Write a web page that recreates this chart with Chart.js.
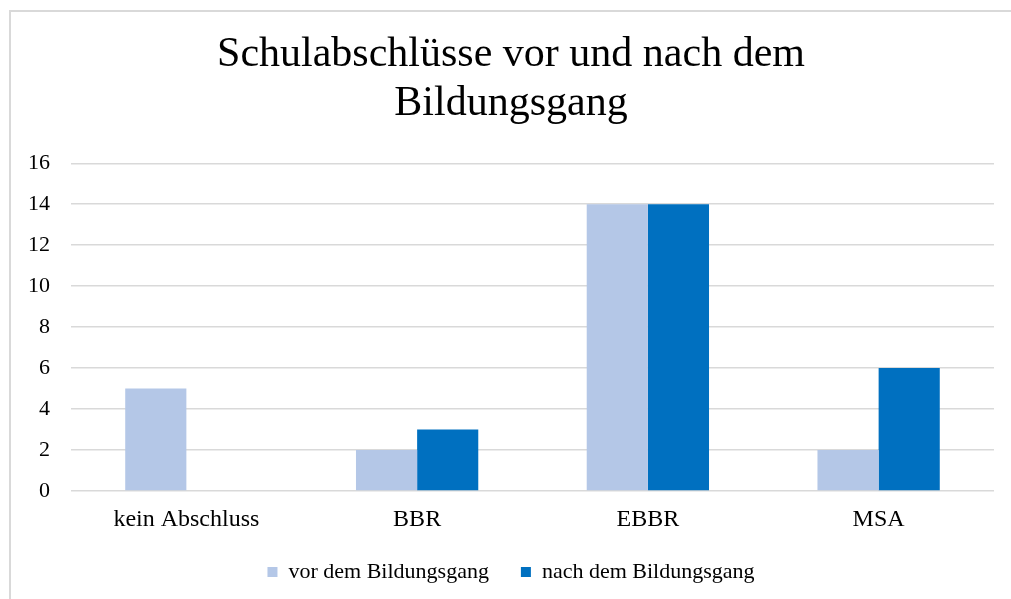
<!DOCTYPE html>
<html>
<head>
<meta charset="utf-8">
<script src="https://cdn.jsdelivr.net/npm/chart.js@4/dist/chart.umd.min.js"></script>
<style>
  html, body { margin: 0; padding: 0; background: #fff; overflow: hidden; }
  #wrap {
    position: absolute; left: 9px; top: 10px;
    width: 1000px; height: 587px;
    border-left: 2px solid #d9d9d9; border-top: 2px solid #d9d9d9;
  }
</style>
</head>
<body>
<div id="wrap"><canvas id="chartAbschluesse"></canvas></div>
<script>
    // Daten
    let categories = ["kein Abschluss", "BBR", "EBBR", "MSA"];
    let valuesBefore = [5, 2, 14, 2];
    let valuesAfter = [0, 3, 14, 6];
    let seriesNames = ["vor dem Bildungsgang", "nach dem Bildungsgang"];
    let yTicks = [0, 2, 4, 6, 8, 10, 12, 14, 16];

    const serif = "'Liberation Serif', 'Times New Roman', serif";
    Chart.defaults.font.family = serif;
    Chart.defaults.color = "#000";

    new Chart("chartAbschluesse", {
        type: "bar",
        data: {
            labels: categories,
            datasets: [{
                label: seriesNames[0],
                backgroundColor: "#b4c7e7",
                data: valuesBefore
            }, {
                label: seriesNames[1],
                backgroundColor: "#0070c0",
                data: valuesAfter
            }]
        },
        options: {
            responsive: true,
            maintainAspectRatio: false,
            animation: false,
            categoryPercentage: 0.53,
            barPercentage: 1,
            layout: { padding: { left: 17, right: 17, top: 8, bottom: 6 } },
            plugins: {
                title: {
                    display: true,
                    text: ["Schulabschlüsse vor und nach dem", "Bildungsgang"],
                    font: { size: 42, weight: "normal", lineHeight: 1.17 },
                    color: "#000",
                    padding: { top: 10, bottom: 35 }
                },
                legend: {
                    position: "bottom",
                    labels: {
                        boxWidth: 10,
                        boxHeight: 10,
                        padding: 32,
                        font: { size: 22 }
                    }
                },
                tooltip: { enabled: false }
            },
            scales: {
                x: {
                    grid: { display: false, drawTicks: false },
                    border: { display: false },
                    ticks: { font: { size: 24, lineHeight: 1.2 }, padding: 14 },
                    // Höhe der Achse: Abstand + Schrift
                    afterFit: (axis) => { axis.height = 14 + 24; }
                },
                y: {
                    min: 0,
                    max: 16,
                    afterBuildTicks: (axis) => { axis.ticks = yTicks.map(v => ({ value: v })); },
                    grid: { color: "#d9d9d9", lineWidth: 1.5, drawTicks: false },
                    border: { display: false },
                    ticks: { font: { size: 22 }, padding: 21 },
                    afterFit: (axis) => { axis.width = 43; }
                }
            }
        }
    });
</script>
</body>
</html>
